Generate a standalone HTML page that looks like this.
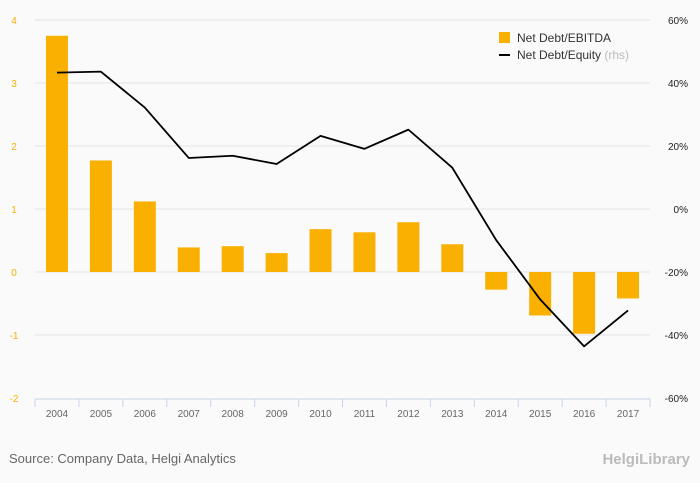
<!DOCTYPE html>
<html><head><meta charset="utf-8"><style>
body{margin:0;background:#fafafa;font-family:"Liberation Sans",sans-serif}
svg{display:block}
</style></head><body>
<svg width="700" height="483" xmlns="http://www.w3.org/2000/svg">
<rect width="700" height="483" fill="#fafafa"/>
<g id="grid"></g>
<g id="bars"></g>
<g id="line"></g>
<g id="axes"></g>
<g>
<rect x="499" y="32" width="11" height="11" fill="#f9b000"/>
<text x="517" y="42" font-size="12" fill="#333">Net Debt/EBITDA</text>
<line x1="499" y1="55" x2="510" y2="55" stroke="#000" stroke-width="2"/>
<text x="517" y="59" font-size="12" fill="#333">Net Debt/Equity <tspan fill="#bbb">(rhs)</tspan></text>
</g>
<text x="9" y="463" font-size="13" fill="#666">Source: Company Data, Helgi Analytics</text>
<text x="690" y="464" font-size="15" fill="#bbb" text-anchor="end" font-weight="bold">HelgiLibrary</text>
</svg>
<script>
const years=["2004","2005","2006","2007","2008","2009","2010","2011","2012","2013","2014","2015","2016","2017"];
const ebitda=[3.75,1.77,1.12,0.39,0.41,0.30,0.68,0.63,0.79,0.44,-0.28,-0.69,-0.98,-0.42];
const equity=[43.3,43.6,32.2,16.2,16.9,14.3,23.2,19.1,25.2,13.1,-9.9,-28.7,-43.6,-32.2];
const leftTicks=[4,3,2,1,0,-1,-2];
const rightTicks=["60%","40%","20%","0%","-20%","-40%","-60%"];
const NS="http://www.w3.org/2000/svg";
const x0=35,x1=650,yTop=20,yBot=398;
const step=(x1-x0)/years.length;
const xc=i=>x0+step*(i+0.5);
const yL=v=>yTop+(4-v)/6*(yBot-yTop);
const yR=v=>yTop+(60-v)/120*(yBot-yTop);
function mk(t,a,p){const e=document.createElementNS(NS,t);for(const k in a)e.setAttribute(k,a[k]);p.appendChild(e);return e;}
const grid=document.getElementById('grid'),bars=document.getElementById('bars'),line=document.getElementById('line'),axes=document.getElementById('axes');
leftTicks.forEach((v,i)=>{
 const y=yL(v);
 if(i<leftTicks.length-1){const g=mk('line',{x1:x0,x2:x1,y1:y,y2:y,stroke:'#e4e4e4','stroke-width':1},grid);
 
 }
 const t=mk('text',{x:14,y:y+4,'font-size':10,fill:'#f9b000','text-anchor':'middle'},axes);t.textContent=v;
 
 
 const r=mk('text',{x:688,y:y+4,'font-size':10,fill:'#222','text-anchor':'end'},axes);r.textContent=rightTicks[i];
 
 
});
const bw=22;
ebitda.forEach((v,i)=>{
 const y0=yL(0),y=yL(v);
 const b=mk('rect',{x:xc(i)-bw/2,y:Math.min(y,y0),width:bw,height:Math.abs(y-y0),fill:'#f9b000'},bars);
 
 
});
const pts=equity.map((v,i)=>xc(i)+','+yR(v)).join(' ');
const pl=mk('polyline',{points:pts,fill:'none',stroke:'#000','stroke-width':1.8,'stroke-linejoin':'round'},line);


const ax=mk('line',{x1:x0,x2:x1,y1:yBot+1,y2:yBot+1,stroke:'#c8d4e8','stroke-width':1},axes);


for(let i=0;i<=years.length;i++){
 const tk=mk('line',{x1:x0+step*i,x2:x0+step*i,y1:yBot+1,y2:yBot+9,stroke:'#c8d4e8'},axes);
 
 
}
years.forEach((yv,i)=>{
 const t=mk('text',{x:xc(i),y:yBot+19,'font-size':10,fill:'#666','text-anchor':'middle'},axes);t.textContent=yv;
 
 
});
</script>
</body></html>
